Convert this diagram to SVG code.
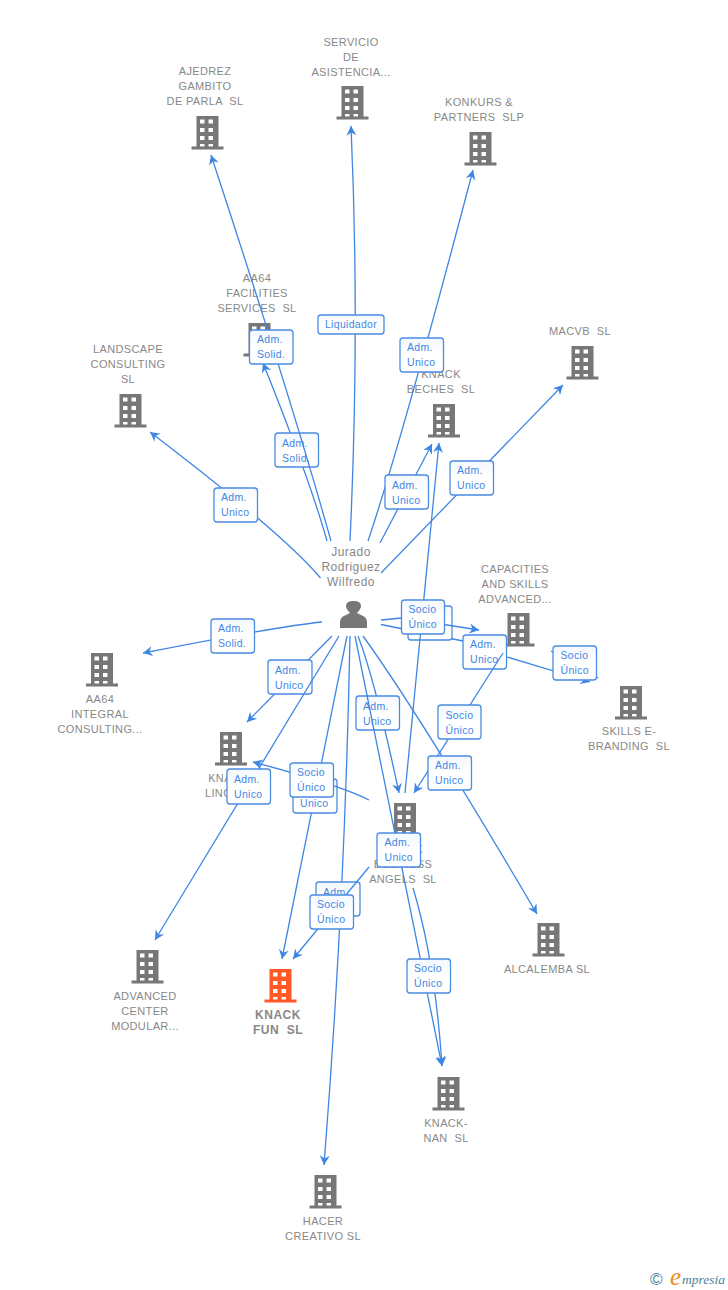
<svg xmlns="http://www.w3.org/2000/svg" width="728" height="1290" viewBox="0 0 728 1290">
<style>
text{font-family:"Liberation Sans",Arial,sans-serif;white-space:pre}
.n{font-size:11px;fill:#888;text-anchor:middle;letter-spacing:.35px}
.p{font-size:12px;fill:#888;text-anchor:middle;letter-spacing:.5px}
.f{font-size:12px;font-weight:bold;fill:#888;text-anchor:middle;letter-spacing:.5px}
.e{fill:none;stroke:#3f86e4;stroke-width:1.3;marker-end:url(#a)}
.o{fill:none;stroke:#3f86e4;stroke-width:1.3}
.b{fill:url(#g);stroke:#4a8ce2;stroke-width:1.3}
.t{font-size:10.5px;fill:#3f86e4;letter-spacing:.3px}
</style>
<defs>
<linearGradient id="g" x1="0" y1="0" x2="0" y2="1"><stop offset="0" stop-color="#f4f8fd"/><stop offset=".5" stop-color="#fff"/><stop offset="1" stop-color="#fff"/></linearGradient>
<marker id="a" markerUnits="userSpaceOnUse" markerWidth="14" markerHeight="14" refX="9.500" refY="6" orient="auto"><path d="M9.500,6 L0,1 L3,6 L0,11 Z" fill="#3f86e4"/></marker>
<g id="bld">
<path fill-rule="evenodd" d="M5,0H27V30.500H32V33.500H0V30.500H5ZM8.500,3.500V7.500H13V3.500ZM17,3.500V7.500H21.500V3.500ZM8.500,12V16H13V12ZM17,12V16H21.500V12ZM8.500,20V24H13V20ZM17,20V24H21.500V20ZM8.500,28V30.500H13V28ZM17,28V30.500H21.500V28Z"/>
</g>
</defs>
<rect width="728" height="1290" fill="#fff"/>
<g id="node-ajedrez"><use href="#bld" x="191.500" y="116" fill="#777"/><text class="n" x="205" y="75">AJEDREZ</text><text class="n" x="205" y="90">GAMBITO</text><text class="n" x="205" y="105">DE PARLA  SL</text></g>
<g id="node-servicio"><use href="#bld" x="336.500" y="86" fill="#777"/><text class="n" x="351" y="46">SERVICIO</text><text class="n" x="351" y="61">DE</text><text class="n" x="351" y="76">ASISTENCIA...</text></g>
<g id="node-konkurs"><use href="#bld" x="464.500" y="132" fill="#777"/><text class="n" x="479" y="106">KONKURS &amp;</text><text class="n" x="479" y="121">PARTNERS  SLP</text></g>
<g id="node-facilities"><use href="#bld" x="243.500" y="323" fill="#777"/><text class="n" x="257" y="282">AA64</text><text class="n" x="257" y="297">FACILITIES</text><text class="n" x="257" y="312">SERVICES  SL</text></g>
<g id="node-landscape"><use href="#bld" x="114.500" y="394" fill="#777"/><text class="n" x="128" y="353">LANDSCAPE</text><text class="n" x="128" y="368">CONSULTING</text><text class="n" x="128" y="383">SL</text></g>
<g id="node-beches"><use href="#bld" x="428" y="404" fill="#777"/><text class="n" x="441" y="378">KNACK</text><text class="n" x="441" y="393">BECHES  SL</text></g>
<g id="node-macvb"><use href="#bld" x="566.500" y="346" fill="#777"/><text class="n" x="580" y="335">MACVB  SL</text></g>
<g id="node-capacities"><use href="#bld" x="502.500" y="613" fill="#777"/><text class="n" x="515" y="573">CAPACITIES</text><text class="n" x="515" y="588">AND SKILLS</text><text class="n" x="515" y="603">ADVANCED...</text></g>
<g id="node-skills"><use href="#bld" x="615" y="686" fill="#777"/><text class="n" x="629" y="735">SKILLS E-</text><text class="n" x="629" y="750">BRANDING  SL</text></g>
<g id="node-integral"><use href="#bld" x="86" y="653" fill="#777"/><text class="n" x="100" y="703">AA64</text><text class="n" x="100" y="718">INTEGRAL</text><text class="n" x="100" y="733">CONSULTING...</text></g>
<g id="node-linc"><use href="#bld" x="215" y="732" fill="#777"/><text class="n" x="228" y="782">KNACK</text><text class="n" x="205" y="797" style="text-anchor:start">LINC</text></g>
<g id="node-business"><use href="#bld" x="389" y="803" fill="#777"/><text class="n" x="403" y="853">KNACK</text><text class="n" x="403" y="868">BUSINESS</text><text class="n" x="403" y="883">ANGELS  SL</text></g>
<g id="node-advanced"><use href="#bld" x="131.500" y="950" fill="#777"/><text class="n" x="145" y="1000">ADVANCED</text><text class="n" x="145" y="1015">CENTER</text><text class="n" x="145" y="1030">MODULAR...</text></g>
<g id="node-fun"><use href="#bld" x="264.500" y="969" fill="#ff5a26"/><text class="f" x="278" y="1019">KNACK</text><text class="f" x="278" y="1034">FUN  SL</text></g>
<g id="node-alcalemba"><use href="#bld" x="532.500" y="923" fill="#777"/><text class="n" x="547" y="973">ALCALEMBA SL</text></g>
<g id="node-nan"><use href="#bld" x="432.500" y="1077" fill="#777"/><text class="n" x="446" y="1127">KNACK-</text><text class="n" x="446" y="1142">NAN  SL</text></g>
<g id="node-hacer"><use href="#bld" x="309.500" y="1175" fill="#777"/><text class="n" x="323" y="1225">HACER</text><text class="n" x="323" y="1240">CREATIVO SL</text></g>
<g id="node-person"><path fill="#777" d="M340,628V622Q340,617 346,615L350,613Q346,609 346,606Q346,601 353.500,601Q361,601 361,606Q361,609 357,613L361,615Q367,617 367,622V628Z"/><text class="p" x="351" y="556">Jurado</text><text class="p" x="351" y="571">Rodriguez</text><text class="p" x="351" y="586">Wilfredo</text></g>
<g id="connectors">
<path class="e" d="M327,541Q310,480 263,363"/>
<rect class="b" x="275" y="433" width="43.500" height="34" rx="3"/><text class="t" x="282" y="447">Adm.</text><text class="t" x="282" y="462">Solid.</text>
<path class="e" d="M331,541Q290,395 211,155"/>
<rect class="b" x="249.500" y="330" width="43.500" height="34" rx="3"/><text class="t" x="257" y="343">Adm.</text><text class="t" x="257" y="358">Solid.</text>
<path class="e" d="M350,541Q360,330 351,126"/>
<rect class="b" x="318" y="315" width="66" height="19" rx="3"/><text class="t" x="351" y="328" text-anchor="middle">Liquidador</text>
<path class="e" d="M368,541Q402,440 473,170"/>
<rect class="b" x="400" y="338" width="43.500" height="34" rx="3"/><text class="t" x="407" y="351">Adm.</text><text class="t" x="407" y="366">Unico</text>
<path class="e" d="M380,543L432,444"/>
<rect class="b" x="385" y="475" width="43.500" height="34" rx="3"/><text class="t" x="392" y="489">Adm.</text><text class="t" x="392" y="504">Unico</text>
<path class="e" d="M381,573L563,385"/>
<rect class="b" x="450" y="461" width="43.500" height="34" rx="3"/><text class="t" x="457" y="474">Adm.</text><text class="t" x="457" y="489">Unico</text>
<path class="e" d="M320.500,578Q285,535 150,432"/>
<rect class="b" x="214" y="488" width="43.500" height="34" rx="3"/><text class="t" x="221" y="501">Adm.</text><text class="t" x="221" y="516">Unico</text>
<path class="o" d="M381,624.500L463,641"/>
<rect class="b" x="408" y="606" width="44" height="34" rx="3"/>
<path class="e" d="M381,620L402,618L479,630"/>
<path class="e" d="M551,651L598,678"/>
<path class="e" d="M507,657L590,682"/>
<rect class="b" x="463" y="635" width="43.500" height="34" rx="3"/><text class="t" x="470" y="648">Adm.</text><text class="t" x="470" y="663">Unico</text>
<path class="e" d="M405,793L439,443"/>
<rect class="b" x="401.500" y="600" width="43" height="34" rx="3"/><text class="t" x="408.500" y="613">Socio</text><text class="t" x="408.500" y="628">Único</text>
<rect class="b" x="553" y="646" width="43.500" height="34" rx="3"/><text class="t" x="560.500" y="659">Socio</text><text class="t" x="560.500" y="674">Único</text>
<path class="e" d="M503,653L414,793"/>
<rect class="b" x="438" y="705" width="43" height="34" rx="3"/><text class="t" x="445.500" y="719">Socio</text><text class="t" x="445.500" y="734">Único</text>
<path class="e" d="M363,636Q420,715 537,914"/>
<rect class="b" x="428" y="756" width="43.500" height="34" rx="3"/><text class="t" x="435" y="769">Adm.</text><text class="t" x="435" y="784">Unico</text>
<path class="e" d="M358,636Q375,680 399,793"/>
<rect class="b" x="356" y="696" width="43.500" height="34" rx="3"/><text class="t" x="363" y="710">Adm.</text><text class="t" x="363" y="725">Unico</text>
<path class="e" d="M355,636L442,1066"/>
<rect class="b" x="377" y="833" width="43.500" height="34" rx="3"/><text class="t" x="384.500" y="846">Adm.</text><text class="t" x="384.500" y="861">Unico</text>
<path class="e" d="M413,888Q435,960 442,1066"/>
<rect class="b" x="407" y="959" width="43.500" height="34" rx="3"/><text class="t" x="414" y="972">Socio</text><text class="t" x="414" y="987">Único</text>
<path class="e" d="M322,622Q280,626 143,653"/>
<rect class="b" x="211" y="619" width="43.500" height="34" rx="3"/><text class="t" x="218" y="632">Adm.</text><text class="t" x="218" y="647">Solid.</text>
<path class="e" d="M332,636L247,722"/>
<rect class="b" x="268" y="660" width="44" height="34" rx="3"/><text class="t" x="275" y="674">Adm.</text><text class="t" x="275" y="689">Unico</text>
<path class="e" d="M339,636L155,940"/>
<rect class="b" x="227" y="769" width="43.500" height="35" rx="3"/><text class="t" x="234" y="783">Adm.</text><text class="t" x="234" y="798">Unico</text>
<path class="e" d="M347,636L282,959"/>
<rect class="b" x="293" y="779" width="44" height="34" rx="3"/><text class="t" x="300" y="807">Unico</text>
<path class="e" d="M369,800Q340,785 253,762"/>
<rect class="b" x="290" y="763" width="43.500" height="34" rx="3"/><text class="t" x="297" y="776">Socio</text><text class="t" x="297" y="791">Único</text>
<path class="e" d="M350,636Q345,900 324,1165"/>
<rect class="b" x="316" y="882" width="44" height="34" rx="3"/><text class="t" x="323" y="896">Adm.</text>
<path class="e" d="M369,867L293,959"/>
<rect class="b" x="310" y="895" width="43.500" height="34" rx="3"/><text class="t" x="317" y="908">Socio</text><text class="t" x="317" y="923">Único</text>
</g>
<g id="logo">
<text x="650" y="1285" font-size="17" fill="#4a7f96">©</text>
<text x="670" y="1285" font-size="25" font-style="italic" fill="#f08a1c" style="font-family:'Liberation Serif',serif">e</text>
<text x="682" y="1284" font-size="13.500" font-style="italic" fill="#4a7f96" style="font-family:'Liberation Serif',serif">mpresia</text>
</g>
</svg>
